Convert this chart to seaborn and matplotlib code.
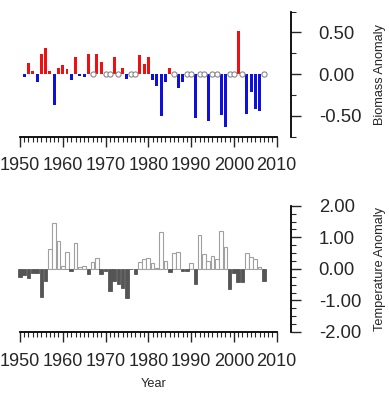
import seaborn as sns
import matplotlib.pyplot as plt
import matplotlib.ticker as mticker
import numpy as np
import pandas as pd

# anos e anomalias
anos_biomassa = list(range(1951, 2008))
biomassa = [-0.03, 0.13, 0.04, -0.10, 0.24, 0.31, 0.04, -0.37, 0.07, 0.11,
            0.06, -0.07, 0.20, -0.02, -0.03, 0.24, 0.00, 0.24, 0.15, 0.00,
            0.00, 0.20, 0.00, 0.07, -0.06, 0.00, 0.00, 0.23, 0.12, 0.21,
            -0.07, -0.14, -0.50, -0.10, 0.07, 0.00, -0.17, -0.10, 0.00, 0.00,
            -0.53, 0.00, 0.00, -0.56, 0.00, 0.00, -0.49, -0.63, 0.00, 0.00,
            0.52, 0.00, -0.48, -0.21, -0.42, -0.44, 0.00]

anos_temp = list(range(1950, 2008))
temperatura = [-0.27, -0.18, -0.30, -0.13, -0.12, -0.88, -0.40, 0.63, 1.45, 0.87,
               0.10, 0.52, -0.08, 0.81, 0.05, 0.10, -0.17, 0.23, 0.35, -0.15,
               -0.08, -0.70, -0.38, -0.48, -0.60, -0.92, -0.02, -0.15, 0.23, 0.31,
               0.35, 0.17, 0.04, 1.17, 0.24, -0.10, 0.49, 0.52, -0.08, -0.08,
               0.18, -0.47, 1.06, 0.48, 0.25, 0.42, 0.31, 1.20, 0.68, -0.63,
               -0.12, -0.42, -0.42, 0.51, 0.36, 0.30, 0.07, -0.37]

biomassa_ticks = [-0.5, 0.0, 0.5]
temp_ticks = [-2.0, -1.0, 0.0, 1.0, 2.0]

sns.set_style("white")
plt.rcParams['font.family'] = ['Liberation Sans', 'DejaVu Sans']

df_b = pd.DataFrame({'ano': anos_biomassa, 'valor': biomassa})
df_b['sinal'] = np.where(df_b['valor'] > 0, 'pos', 'neg')
df_t = pd.DataFrame({'ano': anos_temp, 'valor': temperatura})

fig = plt.figure(figsize=(3.89, 3.95), dpi=100)
ax1 = fig.add_axes([0.041, 0.6542, 0.707, 0.3165])
ax2 = fig.add_axes([0.041, 0.1595, 0.707, 0.3197])

# biomassa
barras = df_b[df_b['valor'] != 0]
sns.barplot(data=barras, x='ano', y='valor', hue='sinal', native_scale=True,
            palette={'pos': '#ee1111', 'neg': '#1010dd'}, width=0.7,
            saturation=1, dodge=False, legend=False, linewidth=0, ax=ax1)
zeros = df_b[df_b['valor'] == 0]
sns.scatterplot(data=zeros, x='ano', y='valor', s=14, color='white',
                edgecolor='#888888', linewidth=0.8, zorder=5, ax=ax1)

# temperatura
pos = df_t[df_t['valor'] >= 0]
neg = df_t[df_t['valor'] < 0]
sns.barplot(data=pos, x='ano', y='valor', native_scale=True, color='white',
            saturation=1, edgecolor='#a0a0a0', linewidth=0.8, width=0.85, ax=ax2)
sns.barplot(data=neg, x='ano', y='valor', native_scale=True, color='#555555',
            saturation=1, edgecolor='#555555', linewidth=0.6, width=0.85, ax=ax2)

for ax, lim, ticks, label in [(ax1, 0.75, biomassa_ticks, 'Biomass Anomaly'),
                              (ax2, 2.0, temp_ticks, 'Temperature Anomaly')]:
    ax.set_xlim(1949.07, 2013.34)
    ax.set_ylim(-lim, lim)
    ax.spines['top'].set_visible(False)
    ax.spines['left'].set_visible(False)
    ax.spines['bottom'].set_bounds(1950, 2010)
    ax.spines['bottom'].set_linewidth(1.3)
    ax.spines['right'].set_linewidth(1.3)
    ax.spines['bottom'].set_color('black')
    ax.spines['right'].set_color('black')
    ax.xaxis.set_major_locator(mticker.FixedLocator(range(1950, 2011, 10)))
    ax.xaxis.set_minor_locator(mticker.FixedLocator(range(1950, 2011)))
    ax.set_yticks(ticks)
    ax.yaxis.set_minor_locator(mticker.MultipleLocator(0.25))
    ax.yaxis.set_major_formatter(mticker.FormatStrFormatter('%.2f'))
    ax.yaxis.tick_right()
    ax.yaxis.set_label_position('right')
    ax.tick_params(axis='x', which='major', bottom=True, length=7, width=1,
                   pad=8, labelsize=13, direction='out')
    ax.tick_params(axis='x', which='minor', bottom=True, length=3.5, width=0.8,
                   direction='out')
    ax.tick_params(axis='y', which='major', right=True, left=False, length=7,
                   width=1, pad=13, labelsize=13.3, direction='out')
    ax.tick_params(axis='y', which='minor', right=True, left=False, length=3.5,
                   width=0.8, direction='out')
    ax.set_ylabel(label, fontsize=9.2, labelpad=9)
    ax.set_xlabel('')

ax2.set_xlabel('Year', fontsize=9.2, labelpad=6)

plt.savefig('out.png', dpi=100)
